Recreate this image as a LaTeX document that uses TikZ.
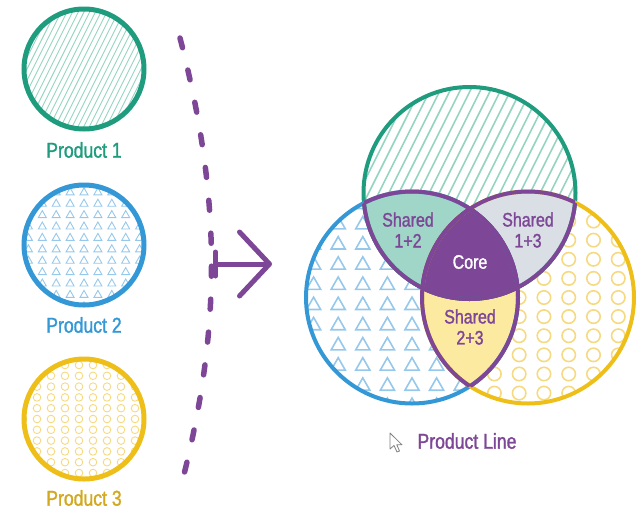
\documentclass[tikz,border=0pt]{standalone}
\usepackage{fontspec}
\setmainfont{Liberation Sans}[FakeStretch=0.82, FakeBold=1.3]
\usepackage{tikz}
\usetikzlibrary{arrows.meta}
\definecolor{prodgreen}{RGB}{30,156,125}
\definecolor{prodblue}{RGB}{52,152,215}
\definecolor{prodyellow}{RGB}{238,190,25}
\definecolor{prodgold}{RGB}{210,168,30}
\definecolor{linepurple}{RGB}{125,70,150}
\definecolor{mintfill}{RGB}{160,214,200}
\definecolor{greyfill}{RGB}{218,223,229}
\definecolor{creamfill}{RGB}{252,234,160}
\definecolor{hatchgreen}{RGB}{150,212,194}
\definecolor{triblue}{RGB}{150,200,235}
\definecolor{ringyellow}{RGB}{245,218,130}

% fill patterns: centre x, centre y, radius, scale
\newcommand{\hatchdisc}[4]{%
  \begin{scope}
    \clip (#1,#2) circle (#3pt);
    \foreach \u in {-17,...,17}
      \draw[hatchline, line width=#4*0.9pt] ({#1+\u*5.7*#4-0.6*#3},{#2+1.2*#3}) -- ({#1+\u*5.7*#4+0.6*#3},{#2-1.2*#3});
  \end{scope}}
\newcommand{\triangledisc}[4]{%
  \begin{scope}
    \clip (#1,#2) circle (#3pt);
    \foreach \i in {-5,...,5}
      \foreach \j in {-6,...,6}
        \draw[triline, line width=#4*0.9pt, shift={({#1+\i*13.9*#4},{#2+(3.5+\j*11.4)*#4})}]
          ({-4*#4},{3.3*#4}) -- (0,{-3.7*#4}) -- ({4*#4},{3.3*#4}) -- cycle;
  \end{scope}}
\newcommand{\ringdisc}[4]{%
  \begin{scope}
    \clip (#1,#2) circle (#3pt);
    \foreach \i in {-5,...,5}
      \foreach \j in {-7,...,7}
        \draw[dotline, line width=#4*0.9pt] ({#1+(\i*14-5)*#4},{#2+\j*10.8*#4}) circle ({3.8*#4*1pt});
  \end{scope}}

\begin{document}
\begin{tikzpicture}[x=1pt, y=-1pt,
        ring/.style={line width=5pt},
        vennring/.style={line width=4pt},
        lensline/.style={line width=4pt, draw=linepurple},
        hatchline/.style={draw=hatchgreen},
        triline/.style={draw=triblue},
        dotline/.style={draw=ringyellow},
        prodlabel/.style={font=\fontsize{21.5}{25}\selectfont},
        sharedlabel/.style={align=center, text=linepurple, font=\fontsize{19.5}{21}\selectfont},
        divider/.style={draw=linepurple, line width=5.5pt, line cap=round, dash pattern=on 10pt off 23pt},
        bigarrow/.style={draw=linepurple, line width=5pt, line cap=round, {Bar[width=24pt,round]}-{Straight Barb[length=30pt,width=64pt,round]}},
        cursorline/.style={draw=gray, line width=0.8pt, line join=round, fill=white}]

    \useasboundingbox (0,0) rectangle (639,509);

    % Single products
    \coordinate (p1) at (84,69);
    \coordinate (p2) at (84,245);
    \coordinate (p3) at (84,419);
    \hatchdisc{84}{69}{60}{1}
    \triangledisc{84}{245}{60}{1}
    \ringdisc{84}{419}{60}{1}
    \draw[ring, prodgreen] (p1) circle (60pt);
    \draw[ring, prodblue] (p2) circle (60pt);
    \draw[ring, prodyellow] (p3) circle (60pt);
    \node[prodlabel, text=prodgreen] (lab1) at (84,150) {Product 1};
    \node[prodlabel, text=prodblue] (lab2) at (84,325) {Product 2};
    \node[prodlabel, text=prodgold] (lab3) at (84,498) {Product 3};

    % Divider and arrow
    \coordinate (divtop) at (180,38);
    \coordinate (divbot) at (180,490);
    \draw[divider] (divtop) .. controls (222,200) and (222,330) .. (divbot);
    \coordinate (arrowtail) at (213,264);
    \coordinate (arrowtip) at (272,264);
    \draw[bigarrow] (arrowtail) -- (arrowtip);

    % Product line
    \coordinate (vgreen) at (469.5,193);
    \coordinate (vblue) at (412,297.5);
    \coordinate (vyellow) at (528,297.5);
    \hatchdisc{469.5}{193}{106}{1.77}
    \triangledisc{412}{297.5}{106}{1.77}
    \ringdisc{528}{297.5}{106}{1.77}

    % overlaps
    \begin{scope}
        \clip (vgreen) circle (106pt);
        \fill[mintfill] (vblue) circle (106pt);
        \fill[greyfill] (vyellow) circle (106pt);
    \end{scope}
    \begin{scope}
        \clip (vblue) circle (106pt);
        \fill[creamfill] (vyellow) circle (106pt);
    \end{scope}
    \begin{scope}
        \clip (vgreen) circle (106pt);
        \clip (vblue) circle (106pt);
        \fill[linepurple] (vyellow) circle (106pt);
    \end{scope}

    \draw[vennring, prodgreen] (vgreen) circle (106pt);
    \draw[vennring, prodblue] (vblue) circle (106pt);
    \draw[vennring, prodyellow] (vyellow) circle (106pt);

    % purple borders of the overlaps
    \begin{scope}
        \clip (vgreen) circle (106pt);
        \draw[lensline] (vblue) circle (106pt);
        \draw[lensline] (vyellow) circle (106pt);
    \end{scope}
    \begin{scope}
        \clip (vblue) circle (106pt);
        \draw[lensline] (vgreen) circle (106pt);
        \draw[lensline] (vyellow) circle (106pt);
    \end{scope}
    \begin{scope}
        \clip (vyellow) circle (106pt);
        \draw[lensline] (vgreen) circle (106pt);
        \draw[lensline] (vblue) circle (106pt);
    \end{scope}

    \node[sharedlabel] (s12) at (408,230) {Shared\\1+2};
    \node[sharedlabel] (s13) at (528,230) {Shared\\1+3};
    \node[sharedlabel] (s23) at (470,327) {Shared\\2+3};
    \node[sharedlabel, text=white] (core) at (470,262) {Core};

    \coordinate (cursor) at (390,433);
    \draw[cursorline] (cursor) -- ++(0,16) -- ++(4,-3.5) -- ++(3,6.5) -- ++(2.5,-1) -- ++(-2.7,-6.2) -- ++(5.2,0) -- cycle;
    \node[prodlabel, text=linepurple] (line) at (467,441) {Product Line};

\end{tikzpicture}
\end{document}
